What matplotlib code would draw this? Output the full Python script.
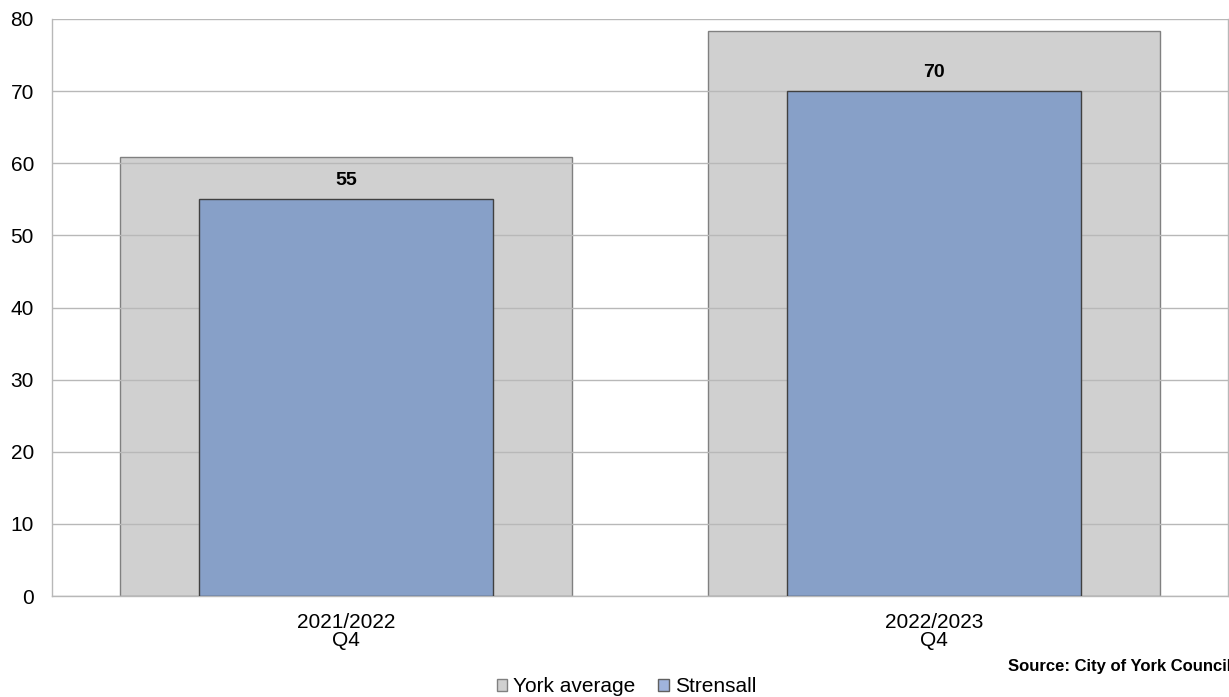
import numpy as np
import matplotlib.pyplot as plt
from matplotlib.patches import Patch

plt.rcParams["font.family"] = ["Liberation Sans", "DejaVu Sans"]

categories = ["2021/2022\nQ4", "2022/2023\nQ4"]
york_average = [60.8, 78.4]
strensall = [55, 70]

fig = plt.figure(figsize=(12.29, 6.97), dpi=100)
ax = fig.add_axes([52 / 1229, 1 - 596 / 697, 1176 / 1229, 577 / 697])

x = np.arange(len(categories))
ax.bar(x, york_average, width=0.77, color="#d0d0d0", edgecolor="#808080",
       linewidth=1.0, zorder=1)
ax.bar(x, strensall, width=0.5, color="#87a0c8", edgecolor="#404040",
       linewidth=1.0, zorder=3)

for xi, v in zip(x, strensall):
    ax.text(xi, v + 1.4, f"{v}", ha="center", va="bottom", fontsize=14,
            fontweight="bold", zorder=4)

ax.set_xlim(-0.5, 1.5)
ax.set_ylim(0, 80)
ax.set_yticks(range(0, 81, 10))
ax.set_xticks(x)
ax.set_xticklabels(categories, fontsize=15, linespacing=0.95)
ax.tick_params(axis="y", labelsize=15, length=0, pad=13)
ax.tick_params(axis="x", length=0, pad=12)
ax.yaxis.grid(True, color="#b8b8b8", linewidth=1.0, zorder=2)
ax.set_axisbelow(False)
for s in ax.spines.values():
    s.set_color("#b8b8b8")
    s.set_linewidth(1.0)
ax.spines["top"].set_visible(False)

handles = [Patch(facecolor="#d0d0d0", edgecolor="#808080", label="York average"),
           Patch(facecolor="#a0b4dc", edgecolor="#606060", label="Strensall")]
fig.legend(handles=handles, loc="center",
           bbox_to_anchor=(0.5 + 12 / 1229, 1 - 687 / 697),
           ncol=2, frameon=False, fontsize=15, handlelength=0.5,
           handleheight=0.5, handletextpad=0.3, columnspacing=1.1,
           borderpad=0)

fig.text(1008 / 1229, 1 - 666 / 697, "Source: City of York Council", ha="left",
         va="center", fontsize=12, fontweight="bold")

fig.savefig("out.png", dpi=100)
